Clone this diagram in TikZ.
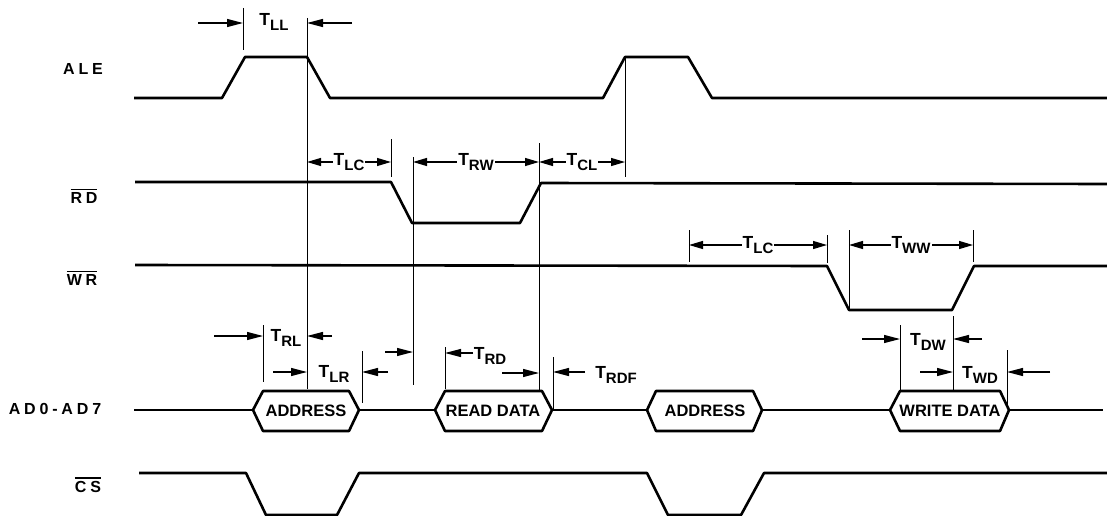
\documentclass[tikz,border=0pt]{standalone}
\usepackage{fontspec}
\setmainfont{Liberation Sans}
\newfontfamily\sigfont[LetterSpace=24]{Liberation Sans Bold}
\newfontfamily\boldfont{Liberation Sans Bold}
\usetikzlibrary{arrows.meta}
\newcommand\tsub[1]{{\fontsize{17.5}{18}\boldfont T}\raisebox{-4.5pt}{\fontsize{15}{15}\boldfont #1}}
\newcommand\olbl[1]{\vbox{\hrule height 1.4pt \kern 2.5pt\hbox{\sigfont #1}}}
\tikzset{
  sig/.style={line width=2.6pt, line join=round},
  tick/.style={line width=0.9pt},
  dim/.style={line width=1.2pt, -{Triangle[length=16pt,width=8pt]}},
  dimb/.style={line width=1.2pt, {Triangle[length=14pt,width=8pt]}-{Triangle[length=14pt,width=8pt]}},
  lbl/.style={inner sep=1pt},
  lblw/.style={inner sep=1pt, fill=white},
  siglbl/.style={inner sep=0pt, font=\fontsize{16}{16}\sigfont},
  hextxt/.style={inner sep=0pt, font=\fontsize{16.5}{17}\boldfont},
}
\begin{document}
\begin{tikzpicture}[x=1pt,y=-1pt]
\fill[white] (0,0) rectangle (1107,516);
\useasboundingbox (0,0) rectangle (1107,516);

% signal names
\node[siglbl] (nale) at (83,69) {ALE};
\node[siglbl] (nrd) at (84,196) {\olbl{RD}};
\node[siglbl] (nwr) at (82,278) {\olbl{WR}};
\node[siglbl] (nad) at (55,409) {AD0-AD7};
\node[siglbl] (ncs) at (88,485) {\olbl{CS}};

% waveforms
\draw[sig] (134,98) -- (222,98) -- (245,57) -- (307,57) -- (330,98) -- (603,98) -- (625,57) -- (688,57) -- (712,98) -- (1107,98);
\draw[sig] (135,182) -- (391,182) -- (412,223) -- (520,223) -- (541,183) -- (1107,184);
\draw[sig] (135,265) -- (827,266) -- (849,310) -- (952,310) -- (974,266) -- (1107,266);
\draw[sig] (139,473) -- (246,473) -- (266,515) -- (337,515) -- (359,473) -- (647,473) -- (668,515) -- (741,515) -- (764,473) -- (1107,473);

% bus
\draw[sig] (134,410) -- (253,410);
\draw[sig] (253,410) -- (263,391) -- (349,391) -- (359,410) -- (349,431) -- (263,431) -- cycle;
\draw[sig] (359,410) -- (435,410);
\draw[sig] (435,410) -- (445,391) -- (542,391) -- (552,410) -- (542,431) -- (445,431) -- cycle;
\draw[sig] (552,410) -- (647,410);
\draw[sig] (647,410) -- (656,391) -- (753,391) -- (762,410) -- (753,431) -- (656,431) -- cycle;
\draw[sig] (762,410) -- (890,410);
\draw[sig] (890,410) -- (900,391) -- (1000,391) -- (1009,410) -- (1000,431) -- (900,431) -- cycle;
\draw[sig] (1009,410) -- (1103,410);
\node[hextxt] (h1) at (306,411) {ADDRESS};
\node[hextxt] (h2) at (493,411) {READ DATA};
\node[hextxt] (h3) at (705,411) {ADDRESS};
\node[hextxt] (h4) at (950,411) {WRITE DATA};

% reference lines
\draw[tick] (243,8) -- (243,50);
\draw[tick] (307,18) -- (307,389);
\draw[tick] (391,139) -- (391,177);
\draw[tick] (413,157) -- (413,385);
\draw[tick] (539,143) -- (539,390);
\draw[tick] (625,57) -- (625,177);
\draw[tick] (263,325) -- (263,382);
\draw[tick] (362,351) -- (362,403);
\draw[tick] (445,347) -- (445,389);
\draw[tick] (553,357) -- (553,410);
\draw[tick] (689,230) -- (689,262);
\draw[tick] (827,235) -- (827,263);
\draw[tick] (849,230) -- (849,310);
\draw[tick] (973,230) -- (973,262);
\draw[tick] (900,325) -- (900,391);
\draw[tick] (953,316) -- (953,391);
\draw[tick] (1007,350) -- (1007,407);

% dimension arrows
\draw[dim] (198,23) -- (243,23);
\node[lbl] (tll) at (274,22) {\tsub{LL}};
\draw[dim] (352,23) -- (307,23);

\draw[dimb] (307,162) -- node[lblw] (tlc) {\tsub{LC}} (391,162);
\draw[dimb] (413,162) -- node[lblw] (trw) {\tsub{RW}} (539,162);
\draw[dimb] (539,162) -- node[lblw] (tcl) {\tsub{CL}} (625,162);
\draw[dimb] (689,245) -- node[lblw] (tlc2) {\tsub{LC}} (827,245);
\draw[dimb] (849,245) -- node[lblw] (tww) {\tsub{WW}} (973,245);

\draw[dim] (214,336) -- (263,336);
\node[lbl] (trl) at (286,338) {\tsub{RL}};
\draw[dim] (332,336) -- (307,336);

\draw[dim] (273,372) -- (307,372);
\node[lbl] (tlr) at (334,374) {\tsub{LR}};
\draw[dim] (388,372) -- (362,372);

\draw[dim] (385,352) -- (413,352);

\draw[dim] (473,353) -- (445,353);
\node[lbl] (trd) at (490,356) {\tsub{RD}};
\draw[dim] (502,373) -- (539,373);

\draw[dim] (585,372) -- (553,372);
\node[lbl] (trdf) at (616,375) {\tsub{RDF}};

\draw[dim] (862,339) -- (900,339);
\node[lbl] (tdw) at (928,342) {\tsub{DW}};
\draw[dim] (982,339) -- (953,339);

\draw[dim] (920,372) -- (953,372);
\node[lbl] (twd) at (980,375) {\tsub{WD}};
\draw[dim] (1050,372) -- (1007,372);
\end{tikzpicture}
\end{document}
